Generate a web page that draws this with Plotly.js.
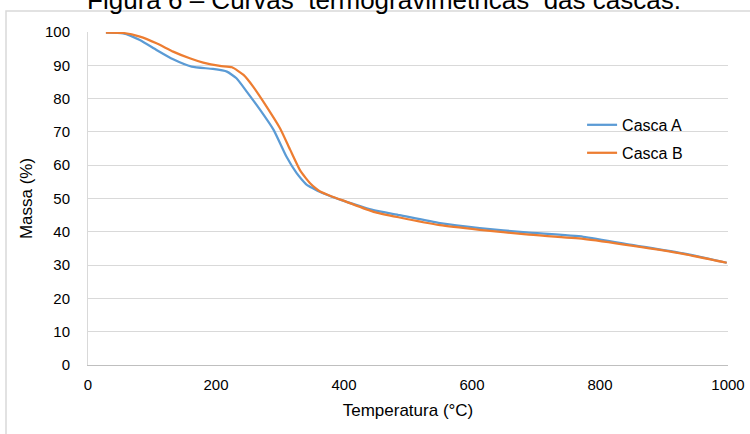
<!DOCTYPE html>
<html>
<head>
<meta charset="utf-8">
<script src="https://cdn.plot.ly/plotly-3.0.1.min.js"></script>
<style>html,body{margin:0;padding:0;background:#fff;}#chart{width:750px;height:434px;}</style>
</head>
<body>
<div id="chart"></div>
<script>
// Casca A (blue)
const tempA = [28, 55, 81, 107, 133, 162, 195, 217, 232, 248, 269, 290, 310, 326, 335, 342, 352, 362, 380, 404, 446, 487, 550, 612, 685, 774, 852, 930, 998];
const massA = [99.8, 99.6, 97.6, 94.6, 91.8, 89.6, 88.9, 88.1, 86.1, 82.1, 76.6, 70.6, 62.6, 57.6, 55.5, 54.1, 53.0, 52.0, 50.6, 49.0, 46.5, 45.0, 42.6, 41.1, 39.8, 38.5, 36.0, 33.5, 30.7];
// Casca B (orange)
const tempB = [28, 55, 81, 107, 133, 159, 180, 206, 225, 243, 258, 279, 300, 316, 331, 340, 347, 355, 362, 380, 404, 446, 487, 550, 612, 685, 774, 852, 930, 998];
const massB = [99.8, 99.7, 98.6, 96.6, 94.1, 92.1, 90.8, 89.8, 89.4, 87.1, 83.6, 77.6, 71.1, 64.6, 58.6, 56.2, 54.6, 53.2, 52.2, 50.7, 49.0, 46.0, 44.3, 42.0, 40.6, 39.2, 37.9, 35.8, 33.4, 30.7];
const xTicks = [0, 200, 400, 600, 800, 1000];
const yTicks = [0, 10, 20, 30, 40, 50, 60, 70, 80, 90, 100];
const seriesNames = ['Casca A', 'Casca B'];
const titleText = 'Figura 6 \u2013 Curvas  termogravimétricas  das cascas.';
const xTitle = 'Temperatura (°C)';
const yTitle = 'Massa (%)';

const font = 'Liberation Sans, Arial, sans-serif';
const traces = [
  {x: tempA, y: massA, name: seriesNames[0], type: 'scatter', mode: 'lines',
   line: {color: '#5B9BD5', width: 2.25, shape: 'spline', smoothing: 0.5}, legend: 'legend'},
  {x: tempB, y: massB, name: seriesNames[1], type: 'scatter', mode: 'lines',
   line: {color: '#ED7D31', width: 2.25, shape: 'spline', smoothing: 0.5}, legend: 'legend2'}
];
const legendBase = {xanchor: 'left', yanchor: 'middle', bgcolor: 'rgba(0,0,0,0)',
  font: {family: font, size: 16, color: '#000'}, borderwidth: 0};
const layout = {
  width: 750, height: 434,
  margin: {l: 88, r: 22, t: 32, b: 69},
  paper_bgcolor: '#fff', plot_bgcolor: '#fff',
  font: {family: font, color: '#000'},
  title: {text: titleText, font: {family: font, size: 26, color: '#000'},
          x: 384/750, xanchor: 'center', xref: 'container', yref: 'container', y: 1.0, yanchor: 'middle'},
  showlegend: true,
  legend: Object.assign({x: 0.772, y: 0.721}, legendBase),
  legend2: Object.assign({x: 0.772, y: 0.637}, legendBase),
  xaxis: {
    range: [0, 1000], tickvals: xTicks, ticktext: xTicks.map(String),
    showgrid: false, zeroline: false,
    showline: true, linecolor: '#bfbfbf', linewidth: 1,
    ticks: '', tickfont: {family: font, size: 15, color: '#000'},
    ticklabelstandoff: 6,
    title: {text: xTitle, font: {family: font, size: 17, color: '#000'}, standoff: 12},
    fixedrange: true
  },
  yaxis: {
    range: [0, 100], tickvals: yTicks, ticktext: yTicks.map(String),
    showgrid: true, gridcolor: '#d9d9d9', gridwidth: 1, zeroline: false,
    showline: true, linecolor: '#d9d9d9', linewidth: 1,
    ticks: '', tickfont: {family: font, size: 15, color: '#000'},
    ticklabelstandoff: 14,
    title: {text: yTitle, font: {family: font, size: 17, color: '#000'}, standoff: 8},
    fixedrange: true
  },
  shapes: [{type: 'rect', xref: 'paper', yref: 'paper',
    x0: (6 - 88) / 640, x1: (760 - 88) / 640,
    y0: (365 - 440) / 333, y1: (365 - 11) / 333,
    line: {color: '#d9d9d9', width: 1.5}, fillcolor: 'rgba(0,0,0,0)', layer: 'below'}]
};
Plotly.newPlot('chart', traces, layout, {displayModeBar: false, staticPlot: true});
</script>
</body>
</html>
